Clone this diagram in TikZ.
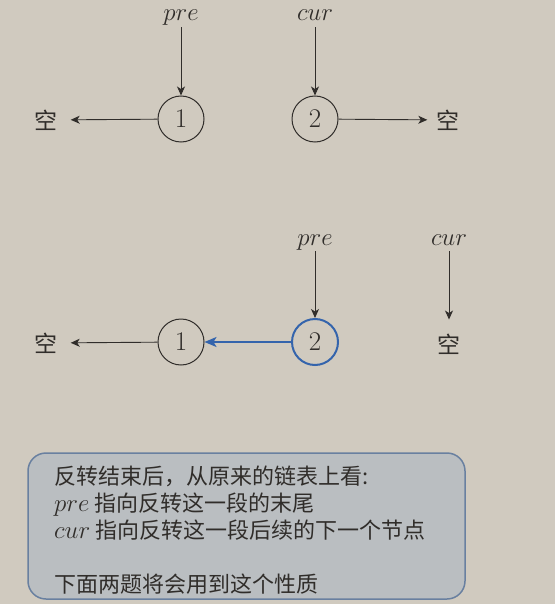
\documentclass[tikz,border=0pt]{standalone}
\usepackage{fontspec}
\newfontfamily\cjk{Noto Sans CJK SC}
\usetikzlibrary{arrows.meta}
\definecolor{bg}{RGB}{208,202,191}
\definecolor{ink}{RGB}{48,45,42}
\definecolor{lblue}{RGB}{52,100,172}
\definecolor{boxfill}{RGB}{186,190,193}
\definecolor{boxline}{RGB}{105,128,160}
\newcommand{\pv}[1]{{\fontsize{26}{27}\selectfont$#1$}}
\tikzset{
  elem/.style={circle, draw=ink, line width=1pt, minimum size=46pt, inner sep=0pt,
    font=\fontsize{27}{27}\selectfont, text=ink},
  ptr/.style={font=\fontsize{24}{24}\selectfont, text=ink, text height=0.45em,
    text depth=0.2em, inner sep=4pt, anchor=base},
  kong/.style={font=\cjk\fontsize{23}{23}\selectfont, text=ink, inner sep=0pt},
  link/.style={-{Stealth[length=9pt,width=8pt,inset=2.5pt]}, draw=ink, line width=0.9pt},
}
\begin{document}
\begin{tikzpicture}[x=1pt, y=-1pt]
  \fill[bg] (0,0) rectangle (555,604);
  \useasboundingbox (0,0) rectangle (555,604);
  % before the step
  \node[ptr] (pre1) at (181,21) {$pre$};
  \node[ptr] (cur1) at (315,21) {$cur$};
  \node[elem] (a1) at (181,119) {1};
  \node[elem] (b1) at (315,119) {2};
  \node[kong] (nl1) at (46,120) {空};
  \node[kong] (nr1) at (448,120) {空};
  \draw[link] (pre1) -- (a1);
  \draw[link] (cur1) -- (b1);
  \draw[link, shorten >=13pt] (a1) -- (nl1);
  \draw[link, shorten >=9pt] (b1) -- (nr1);
  % after the step
  \node[ptr] (pre2) at (315,245) {$pre$};
  \node[ptr] (cur2) at (449,245) {$cur$};
  \node[elem] (a2) at (181,342) {1};
  \node[elem, draw=lblue, line width=2pt] (b2) at (315,342) {2};
  \node[kong] (nl2) at (46,343) {空};
  \node[kong] (nr2) at (449,344) {空};
  \draw[link] (pre2) -- (b2);
  \draw[link, shorten >=14pt] (cur2) -- (nr2);
  \draw[link, shorten >=13pt] (a2) -- (nl2);
  \draw[-{Stealth[length=12pt,width=10pt,inset=3pt]}, draw=lblue, line width=1.8pt] (b2) -- (a2);
  % note
  \draw[boxline, fill=boxfill, line width=1.5pt, rounded corners=18pt] (28,453) rectangle (465,599);
  %\node at (246,526) {};
  \node[anchor=north west, align=left, inner sep=0pt, text=ink,
    font=\cjk\fontsize{22}{27}\selectfont] (note) at (54,466)
    {反转结束后，从原来的链表上看:\\
     \pv{pre} 指向反转这一段的末尾\\
     \pv{cur} 指向反转这一段后续的下一个节点\\[27pt]
     下面两题将会用到这个性质};
\end{tikzpicture}
\end{document}
